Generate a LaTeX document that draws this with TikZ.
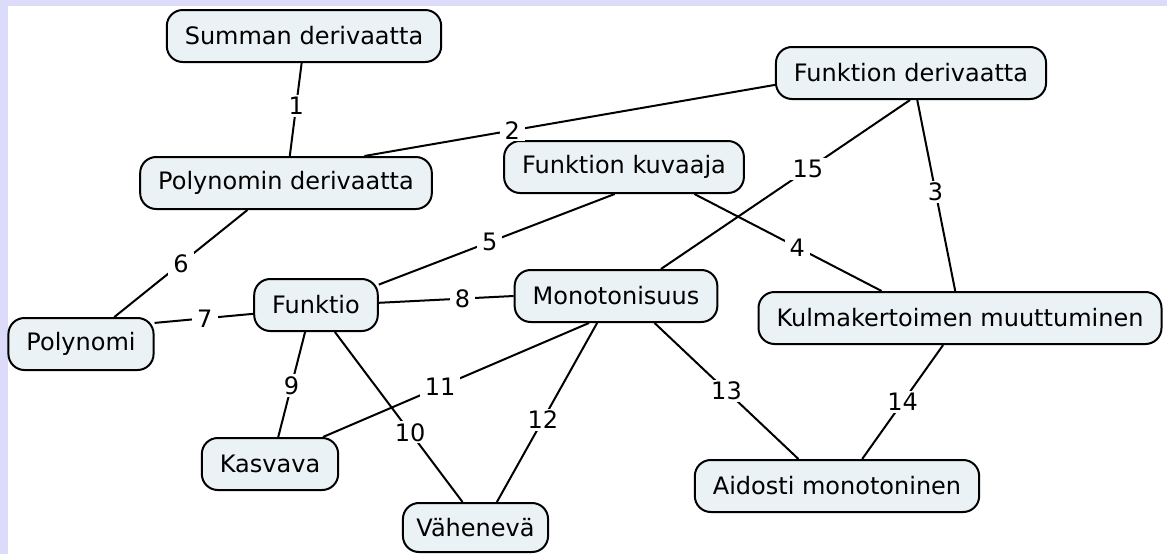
\documentclass[tikz,border=0pt]{standalone}
\usepackage{fontspec}
\setmainfont{DejaVu Sans}
\definecolor{nodefill}{RGB}{234,242,245}
\definecolor{edgecol}{RGB}{220,220,250}
\begin{document}
\begin{tikzpicture}[x=1pt,y=-1pt,
  concept/.style={draw=black,line width=2pt,fill=nodefill,rounded corners=16pt,
    minimum height=52pt,inner xsep=18pt,font=\fontsize{24}{29}\selectfont},
  link/.style={line width=2pt,draw=black},
  lbl/.style={fill=white,inner xsep=5pt,inner ysep=2pt,font=\fontsize{24}{29}\selectfont}]
\useasboundingbox (0,0) rectangle (1167,554);
\fill[white] (0,0) rectangle (1167,554);
\fill[edgecol] (0,0) rectangle (8,554);
\fill[edgecol] (0,0) rectangle (1167,6);

\node[concept] (sum) at (304,36) {Summan derivaatta};
\node[concept] (fd) at (911,73) {Funktion derivaatta};
\node[concept] (pd) at (286,183) {Polynomin derivaatta};
\node[concept] (fk) at (624,167) {Funktion kuvaaja};
\node[concept] (pol) at (81,344) {Polynomi};
\node[concept] (fun) at (316,305) {Funktio};
\node[concept] (mon) at (616,296) {Monotonisuus};
\node[concept] (kul) at (960,318) {Kulmakertoimen muuttuminen};
\node[concept] (kas) at (270,464) {Kasvava};
\node[concept,inner xsep=13.5pt,minimum height=49pt] (vah) at (475.5,527.5) {Vähenevä};
\node[concept] (aid) at (837,486) {Aidosti monotoninen};

\draw[link] (sum.265) -- node[lbl,pos=0.46] {1} (pd.82);
\draw[link] (pd.19) -- node[lbl,pos=0.36] {2} (fd.185);
\draw[link] (fd.283.5) -- node[lbl,pos=0.48] {3} (kul.100.5);
\draw[link] (fk.339.6) -- node[lbl,pos=0.55] {4} (kul.161.4);
\draw[link] (fk.251) -- node[lbl,pos=0.53] {5} (fun.18.7);
\draw[link] (pd.215.3) -- node[lbl,pos=0.5] {6} (pol.39.5);
\draw[link] (pol.16) -- node[lbl,pos=0.51] {7} (fun.188.4);
\draw[link] (fun.2.8) -- node[lbl,pos=0.62] {8} (mon.180);
\draw[link] (fun.248) -- node[lbl,pos=0.51] {9} (kas.73);
\draw[link] (fun.305) -- node[lbl,pos=0.59] {10} (vah.117.5);
\draw[link] (mon.225) -- node[lbl,pos=0.56] {11} (kas.27.5);
\draw[link] (mon.235.3) -- node[lbl,pos=0.54] {12} (vah.50);
\draw[link] (mon.325) -- node[lbl,pos=0.5] {13} (aid.145.3);
\draw[link] (kul.238) -- node[lbl,pos=0.5] {14} (aid.47.2);
\draw[link] (fd.268) -- node[lbl,pos=0.41] {15} (mon.31.8);
\end{tikzpicture}
\end{document}
